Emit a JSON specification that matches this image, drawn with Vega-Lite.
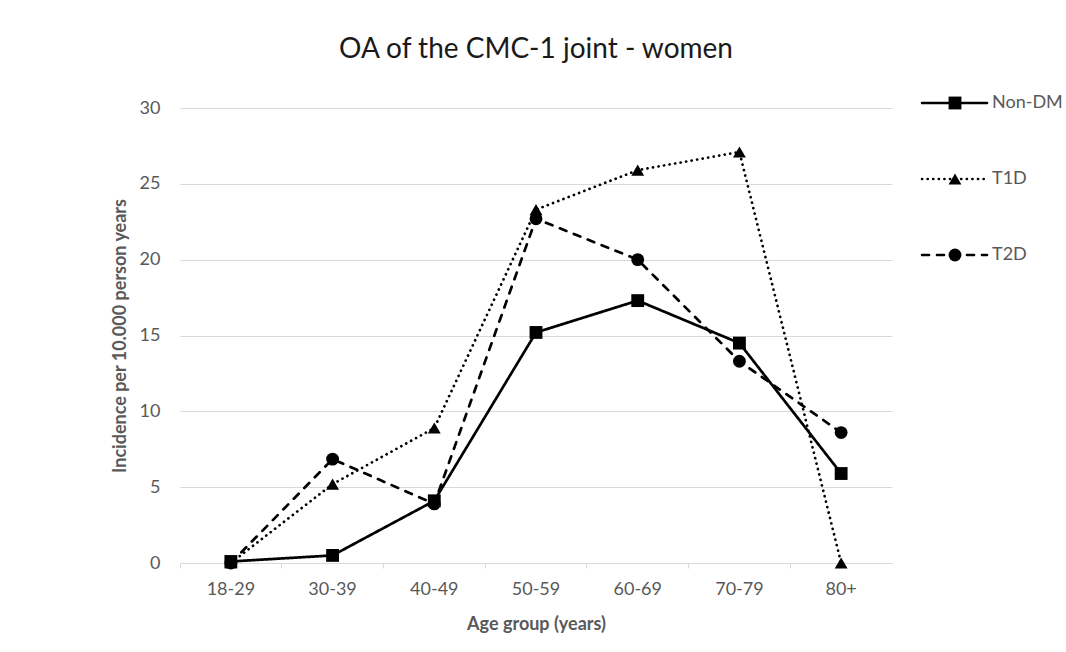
{
  "$schema": "https://vega.github.io/schema/vega-lite/v6.json",
  "width": 712,
  "height": 455,
  "autosize": "none",
  "padding": {"left": 180, "top": 108, "right": 174, "bottom": 89},
  "background": "white",
  "config": {"font": "Lato", "view": {"stroke": null}},
  "title": {
    "text": "OA of the CMC-1 joint - women",
    "fontSize": 28,
    "fontWeight": "normal",
    "color": "#1a1a1a",
    "anchor": "middle",
    "baseline": "alphabetic",
    "offset": 7
  },
  "data": {
    "values": [
      {"age": "18-29", "group": "Non-DM", "value": 0.1},
      {"age": "30-39", "group": "Non-DM", "value": 0.5},
      {"age": "40-49", "group": "Non-DM", "value": 4.1},
      {"age": "50-59", "group": "Non-DM", "value": 15.2},
      {"age": "60-69", "group": "Non-DM", "value": 17.3},
      {"age": "70-79", "group": "Non-DM", "value": 14.5},
      {"age": "80+", "group": "Non-DM", "value": 5.9},
      {"age": "18-29", "group": "T1D", "value": 0},
      {"age": "30-39", "group": "T1D", "value": 5.2},
      {"age": "40-49", "group": "T1D", "value": 8.9},
      {"age": "50-59", "group": "T1D", "value": 23.3},
      {"age": "60-69", "group": "T1D", "value": 25.9},
      {"age": "70-79", "group": "T1D", "value": 27.1},
      {"age": "80+", "group": "T1D", "value": 0},
      {"age": "18-29", "group": "T2D", "value": 0},
      {"age": "30-39", "group": "T2D", "value": 6.85},
      {"age": "40-49", "group": "T2D", "value": 3.9},
      {"age": "50-59", "group": "T2D", "value": 22.7},
      {"age": "60-69", "group": "T2D", "value": 20.0},
      {"age": "70-79", "group": "T2D", "value": 13.3},
      {"age": "80+", "group": "T2D", "value": 8.6}
    ]
  },
  "layer": [
    {
      "mark": {"type": "line", "strokeWidth": 2.7, "strokeCap": "round", "color": "black"},
      "encoding": {
        "x": {
          "field": "age", "type": "ordinal",
          "sort": ["18-29", "30-39", "40-49", "50-59", "60-69", "70-79", "80+"],
          "scale": {"type": "band", "paddingInner": 0, "paddingOuter": 0},
          "axis": {"orient": "bottom", "title": null, "labels": false, "bandPosition": 0, "ticks": true, "tickSize": 5, "tickColor": "#d9d9d9", "domainColor": "#d9d9d9", "domainWidth": 1, "grid": false}
        },
        "y": {
          "field": "value", "type": "quantitative",
          "scale": {"domain": [0, 30], "nice": false},
          "axis": {"title": "Incidence per 10.000 person years", "titleFontSize": 18, "titleFontWeight": "bold", "titleColor": "#595959", "titlePadding": 10, "labelFontSize": 18, "labelColor": "#595959", "labelPadding": 20, "ticks": false, "domain": false, "grid": true, "gridColor": "#d9d9d9", "gridWidth": 1, "values": [0, 5, 10, 15, 20, 25, 30]}
        },
        "strokeDash": {
          "field": "group", "type": "nominal",
          "scale": {"domain": ["Non-DM", "T1D", "T2D"], "range": [[1, 0], [0.1, 5.5], [7, 8]]},
          "legend": {"title": null, "orient": "none", "legendX": 740.5, "legendY": -15, "padding": 0, "symbolType": "stroke", "symbolSize": 4225, "symbolStrokeWidth": 2.7, "symbolStrokeColor": "black", "labelFontSize": 18, "labelColor": "#595959", "labelOffset": 3.5, "clipHeight": 20, "rowPadding": 56, "encode": {"symbols": {"update": {"strokeCap": {"value": "round"}}}}}
        }
      }
    },
    {
      "mark": {"type": "point", "filled": true, "color": "black", "opacity": 1, "size": 165},
      "encoding": {
        "x": {
          "field": "age", "type": "ordinal",
          "sort": ["18-29", "30-39", "40-49", "50-59", "60-69", "70-79", "80+"],
          "scale": {"type": "band", "paddingInner": 0, "paddingOuter": 0},
          "axis": {"orient": "bottom", "title": "Age group (years)", "titleFontSize": 18, "titleFontWeight": "bold", "titleColor": "#595959", "titlePadding": 17, "labelFontSize": 18, "labelColor": "#595959", "labelPadding": 17, "labelAngle": 0, "ticks": false, "domain": false, "grid": false}
        },
        "y": {"field": "value", "type": "quantitative", "scale": {"domain": [0, 30], "nice": false}},
        "shape": {
          "field": "group", "type": "nominal",
          "scale": {"range": ["square", "triangle-up", "circle"]},
          "legend": {"title": null, "orient": "none", "legendX": 766, "legendY": -15, "padding": 0, "symbolSize": 165, "symbolFillColor": "black", "symbolStrokeWidth": 0, "labelFontSize": 18, "labelExpr": "''", "clipHeight": 20, "rowPadding": 56}
        }
      }
    }
  ],
  "resolve": {"axis": {"x": "independent"}}
}
